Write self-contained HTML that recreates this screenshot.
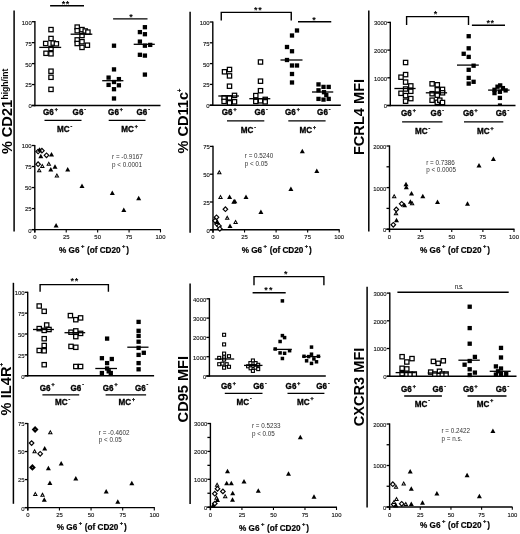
<!DOCTYPE html>
<html><head><meta charset="utf-8"><title>Figure</title>
<style>
html,body{margin:0;padding:0;background:#fff;width:520px;height:534px;overflow:hidden}
svg{display:block;font-family:"Liberation Sans", sans-serif;filter:grayscale(100%) blur(0.3px)}
</style></head>
<body>
<svg width="520" height="534" viewBox="0 0 520 534" font-family='"Liberation Sans", sans-serif'>
<rect width="520" height="534" fill="#fff"/>
<line x1="14.10" y1="10.40" x2="14.10" y2="231.60" stroke="#000" stroke-width="1.5"/>
<text transform="translate(11.70,154.00) rotate(-90)" x="0" y="0" font-size="14.6" font-weight="bold" fill="#000">%</text>
<text transform="translate(11.70,137.20) rotate(-90)" x="0" y="0" font-size="14.6" font-weight="bold" fill="#000">CD21</text>
<text transform="translate(7.60,99.60) rotate(-90)" x="0" y="0" font-size="8.6" font-weight="bold" fill="#000">high/int</text>
<line x1="34.90" y1="21.10" x2="34.90" y2="106.20" stroke="#000" stroke-width="1.4"/>
<line x1="31.90" y1="105.50" x2="34.90" y2="105.50" stroke="#000" stroke-width="1.3"/>
<text x="31.70" y="108.40" font-size="5.9" font-weight="normal" text-anchor="end" fill="#111" stroke="#111" stroke-width="0.12">0</text>
<line x1="31.90" y1="84.55" x2="34.90" y2="84.55" stroke="#000" stroke-width="1.3"/>
<text x="31.70" y="87.45" font-size="5.9" font-weight="normal" text-anchor="end" fill="#111" stroke="#111" stroke-width="0.12">25</text>
<line x1="31.90" y1="63.60" x2="34.90" y2="63.60" stroke="#000" stroke-width="1.3"/>
<text x="31.70" y="66.50" font-size="5.9" font-weight="normal" text-anchor="end" fill="#111" stroke="#111" stroke-width="0.12">50</text>
<line x1="31.90" y1="42.65" x2="34.90" y2="42.65" stroke="#000" stroke-width="1.3"/>
<text x="31.70" y="45.55" font-size="5.9" font-weight="normal" text-anchor="end" fill="#111" stroke="#111" stroke-width="0.12">75</text>
<line x1="31.90" y1="21.70" x2="34.90" y2="21.70" stroke="#000" stroke-width="1.3"/>
<text x="31.70" y="24.60" font-size="5.9" font-weight="normal" text-anchor="end" fill="#111" stroke="#111" stroke-width="0.12">100</text>
<line x1="31.70" y1="105.50" x2="160.50" y2="105.50" stroke="#000" stroke-width="1.4"/>
<line x1="50.10" y1="5.80" x2="84.00" y2="5.80" stroke="#000" stroke-width="1.4"/>
<text x="61.75" y="6.50" font-size="9" font-weight="bold" fill="#000">*</text>
<text x="65.80" y="6.50" font-size="9" font-weight="bold" fill="#000">*</text>
<line x1="113.10" y1="18.90" x2="147.50" y2="18.90" stroke="#000" stroke-width="1.4"/>
<text x="129.20" y="19.85" font-size="9" font-weight="bold" fill="#000">*</text>
<rect x="48.85" y="27.45" width="4.3" height="4.3" fill="#fff" stroke="#000" stroke-width="1.25"/>
<rect x="48.85" y="36.35" width="4.3" height="4.3" fill="#fff" stroke="#000" stroke-width="1.25"/>
<rect x="43.55" y="41.35" width="4.3" height="4.3" fill="#fff" stroke="#000" stroke-width="1.25"/>
<rect x="51.05" y="40.95" width="4.3" height="4.3" fill="#fff" stroke="#000" stroke-width="1.25"/>
<rect x="54.25" y="41.65" width="4.3" height="4.3" fill="#fff" stroke="#000" stroke-width="1.25"/>
<rect x="48.85" y="46.35" width="4.3" height="4.3" fill="#fff" stroke="#000" stroke-width="1.25"/>
<rect x="43.85" y="51.15" width="4.3" height="4.3" fill="#fff" stroke="#000" stroke-width="1.25"/>
<rect x="48.85" y="51.65" width="4.3" height="4.3" fill="#fff" stroke="#000" stroke-width="1.25"/>
<rect x="48.85" y="69.05" width="4.3" height="4.3" fill="#fff" stroke="#000" stroke-width="1.25"/>
<rect x="48.85" y="75.15" width="4.3" height="4.3" fill="#fff" stroke="#000" stroke-width="1.25"/>
<rect x="48.85" y="87.25" width="4.3" height="4.3" fill="#fff" stroke="#000" stroke-width="1.25"/>
<line x1="39.30" y1="47.40" x2="61.20" y2="47.40" stroke="#000" stroke-width="1.3"/>
<rect x="75.05" y="24.95" width="4.3" height="4.3" fill="#fff" stroke="#000" stroke-width="1.25"/>
<rect x="75.05" y="28.55" width="4.3" height="4.3" fill="#fff" stroke="#000" stroke-width="1.25"/>
<rect x="79.85" y="27.45" width="4.3" height="4.3" fill="#fff" stroke="#000" stroke-width="1.25"/>
<rect x="83.05" y="28.85" width="4.3" height="4.3" fill="#fff" stroke="#000" stroke-width="1.25"/>
<rect x="85.75" y="29.95" width="4.3" height="4.3" fill="#fff" stroke="#000" stroke-width="1.25"/>
<rect x="79.85" y="33.35" width="4.3" height="4.3" fill="#fff" stroke="#000" stroke-width="1.25"/>
<rect x="75.05" y="37.75" width="4.3" height="4.3" fill="#fff" stroke="#000" stroke-width="1.25"/>
<rect x="79.85" y="39.55" width="4.3" height="4.3" fill="#fff" stroke="#000" stroke-width="1.25"/>
<rect x="75.05" y="41.35" width="4.3" height="4.3" fill="#fff" stroke="#000" stroke-width="1.25"/>
<rect x="85.25" y="43.05" width="4.3" height="4.3" fill="#fff" stroke="#000" stroke-width="1.25"/>
<rect x="79.85" y="45.25" width="4.3" height="4.3" fill="#fff" stroke="#000" stroke-width="1.25"/>
<line x1="70.60" y1="34.20" x2="92.30" y2="34.20" stroke="#000" stroke-width="1.3"/>
<rect x="111.85" y="43.55" width="4.3" height="4.3" fill="#000"/>
<rect x="111.85" y="67.25" width="4.3" height="4.3" fill="#000"/>
<rect x="106.45" y="75.45" width="4.3" height="4.3" fill="#000"/>
<rect x="116.75" y="76.95" width="4.3" height="4.3" fill="#000"/>
<rect x="111.85" y="79.85" width="4.3" height="4.3" fill="#000"/>
<rect x="106.45" y="82.75" width="4.3" height="4.3" fill="#000"/>
<rect x="116.75" y="83.15" width="4.3" height="4.3" fill="#000"/>
<rect x="111.85" y="87.05" width="4.3" height="4.3" fill="#000"/>
<rect x="111.85" y="96.35" width="4.3" height="4.3" fill="#000"/>
<line x1="102.20" y1="80.70" x2="123.40" y2="80.70" stroke="#000" stroke-width="1.3"/>
<rect x="142.75" y="25.05" width="4.3" height="4.3" fill="#000"/>
<rect x="137.75" y="29.95" width="4.3" height="4.3" fill="#000"/>
<rect x="142.75" y="32.05" width="4.3" height="4.3" fill="#000"/>
<rect x="137.75" y="39.45" width="4.3" height="4.3" fill="#000"/>
<rect x="142.75" y="43.55" width="4.3" height="4.3" fill="#000"/>
<rect x="148.05" y="42.75" width="4.3" height="4.3" fill="#000"/>
<rect x="137.75" y="52.65" width="4.3" height="4.3" fill="#000"/>
<rect x="142.75" y="53.45" width="4.3" height="4.3" fill="#000"/>
<rect x="142.75" y="72.45" width="4.3" height="4.3" fill="#000"/>
<line x1="133.70" y1="44.30" x2="154.80" y2="44.30" stroke="#000" stroke-width="1.3"/>
<text transform="translate(43.00,115.20) scale(1,1.1)" font-size="8.1" font-weight="bold" fill="#000" stroke="#000" stroke-width="0.3">G6<tspan font-size="5.2" dx="0.9" dy="-4.0">+</tspan></text>
<text transform="translate(72.60,115.20) scale(1,1.1)" font-size="8.1" font-weight="bold" fill="#000" stroke="#000" stroke-width="0.3">G6<tspan font-size="5.2" dx="0.9" dy="-4.0">-</tspan></text>
<text transform="translate(108.10,115.20) scale(1,1.1)" font-size="8.1" font-weight="bold" fill="#000" stroke="#000" stroke-width="0.3">G6<tspan font-size="5.2" dx="0.9" dy="-4.0">+</tspan></text>
<text transform="translate(136.50,115.20) scale(1,1.1)" font-size="8.1" font-weight="bold" fill="#000" stroke="#000" stroke-width="0.3">G6<tspan font-size="5.2" dx="0.9" dy="-4.0">-</tspan></text>
<line x1="44.50" y1="120.40" x2="81.50" y2="120.40" stroke="#000" stroke-width="1.3"/>
<line x1="108.70" y1="120.40" x2="145.50" y2="120.40" stroke="#000" stroke-width="1.3"/>
<text transform="translate(57.00,132.20) scale(1,1.1)" font-size="8.1" font-weight="bold" fill="#000" stroke="#000" stroke-width="0.3">MC<tspan font-size="5.2" dx="0.9" dy="-4.0">-</tspan></text>
<text transform="translate(121.20,132.20) scale(1,1.1)" font-size="8.1" font-weight="bold" fill="#000" stroke="#000" stroke-width="0.3">MC<tspan font-size="5.2" dx="0.9" dy="-4.0">+</tspan></text>
<line x1="34.80" y1="144.90" x2="34.80" y2="232.60" stroke="#000" stroke-width="1.4"/>
<line x1="31.80" y1="229.60" x2="34.80" y2="229.60" stroke="#000" stroke-width="1.3"/>
<text x="31.60" y="232.50" font-size="5.9" font-weight="normal" text-anchor="end" fill="#111" stroke="#111" stroke-width="0.12">0</text>
<line x1="31.80" y1="208.57" x2="34.80" y2="208.57" stroke="#000" stroke-width="1.3"/>
<text x="31.60" y="211.47" font-size="5.9" font-weight="normal" text-anchor="end" fill="#111" stroke="#111" stroke-width="0.12">25</text>
<line x1="31.80" y1="187.55" x2="34.80" y2="187.55" stroke="#000" stroke-width="1.3"/>
<text x="31.60" y="190.45" font-size="5.9" font-weight="normal" text-anchor="end" fill="#111" stroke="#111" stroke-width="0.12">50</text>
<line x1="31.80" y1="166.52" x2="34.80" y2="166.52" stroke="#000" stroke-width="1.3"/>
<text x="31.60" y="169.42" font-size="5.9" font-weight="normal" text-anchor="end" fill="#111" stroke="#111" stroke-width="0.12">75</text>
<line x1="31.80" y1="145.50" x2="34.80" y2="145.50" stroke="#000" stroke-width="1.3"/>
<text x="31.60" y="148.40" font-size="5.9" font-weight="normal" text-anchor="end" fill="#111" stroke="#111" stroke-width="0.12">100</text>
<line x1="31.60" y1="229.60" x2="161.00" y2="229.60" stroke="#000" stroke-width="1.4"/>
<line x1="34.80" y1="229.60" x2="34.80" y2="232.40" stroke="#000" stroke-width="1.1"/>
<text x="34.80" y="239.20" font-size="5.9" font-weight="normal" text-anchor="middle" fill="#111" stroke="#111" stroke-width="0.12">0</text>
<line x1="66.22" y1="229.60" x2="66.22" y2="232.40" stroke="#000" stroke-width="1.1"/>
<text x="66.22" y="239.20" font-size="5.9" font-weight="normal" text-anchor="middle" fill="#111" stroke="#111" stroke-width="0.12">25</text>
<line x1="97.65" y1="229.60" x2="97.65" y2="232.40" stroke="#000" stroke-width="1.1"/>
<text x="97.65" y="239.20" font-size="5.9" font-weight="normal" text-anchor="middle" fill="#111" stroke="#111" stroke-width="0.12">50</text>
<line x1="129.07" y1="229.60" x2="129.07" y2="232.40" stroke="#000" stroke-width="1.1"/>
<text x="129.07" y="239.20" font-size="5.9" font-weight="normal" text-anchor="middle" fill="#111" stroke="#111" stroke-width="0.12">75</text>
<line x1="160.50" y1="229.60" x2="160.50" y2="232.40" stroke="#000" stroke-width="1.1"/>
<text x="160.50" y="239.20" font-size="5.9" font-weight="normal" text-anchor="middle" fill="#111" stroke="#111" stroke-width="0.12">100</text>
<text x="112.10" y="158.80" font-size="6.3" font-weight="normal" text-anchor="start" fill="#333" >r = -0.9167</text>
<text x="112.10" y="166.70" font-size="6.3" font-weight="normal" text-anchor="start" fill="#333" >p &lt; 0.0001</text>
<text x="59.00" y="253.10" font-size="8.2" font-weight="bold" fill="#000" stroke="#000" stroke-width="0.2">% G6<tspan font-size="5.8" dx="1.4" dy="-5.0">+</tspan><tspan dx="0.4" dy="5.0"> (of CD20</tspan><tspan font-size="5.8" dx="1.4" dy="-5.0">+</tspan><tspan dx="0.9" dy="5.0">)</tspan></text>
<polygon points="38.10,148.40 41.20,151.50 38.10,154.60 35.00,151.50" fill="#000"/>
<polygon points="38.10,150.03 39.57,151.50 38.10,152.97 36.63,151.50" fill="#fff"/>
<polygon points="41.90,147.60 45.00,150.70 41.90,153.80 38.80,150.70" fill="#000"/>
<polygon points="41.90,149.23 43.37,150.70 41.90,152.17 40.43,150.70" fill="#fff"/>
<polygon points="46.50,152.20 49.60,155.30 46.50,158.40 43.40,155.30" fill="#000"/>
<polygon points="46.50,153.83 47.97,155.30 46.50,156.77 45.03,155.30" fill="#fff"/>
<polygon points="38.10,161.10 41.20,164.20 38.10,167.30 35.00,164.20" fill="#000"/>
<polygon points="38.10,162.73 39.57,164.20 38.10,165.67 36.63,164.20" fill="#fff"/>
<polygon points="39.20,167.65 41.70,172.15 36.70,172.15" fill="#000"/>
<polygon points="39.20,169.71 40.00,171.15 38.40,171.15" fill="#fff"/>
<polygon points="42.30,163.45 44.80,167.95 39.80,167.95" fill="#000"/>
<polygon points="42.30,165.51 43.10,166.95 41.50,166.95" fill="#fff"/>
<polygon points="48.80,161.15 51.30,165.65 46.30,165.65" fill="#000"/>
<polygon points="48.80,163.21 49.60,164.65 48.00,164.65" fill="#fff"/>
<polygon points="56.90,173.05 59.40,177.55 54.40,177.55" fill="#000"/>
<polygon points="56.90,175.11 57.70,176.55 56.10,176.55" fill="#fff"/>
<polygon points="39.60,147.25 42.10,151.75 37.10,151.75" fill="#000"/>
<polygon points="40.80,153.85 43.30,158.35 38.30,158.35" fill="#000"/>
<polygon points="51.50,151.95 54.00,156.45 49.00,156.45" fill="#000"/>
<polygon points="50.80,166.95 53.30,171.45 48.30,171.45" fill="#000"/>
<polygon points="55.00,164.25 57.50,168.75 52.50,168.75" fill="#000"/>
<polygon points="67.70,166.95 70.20,171.45 65.20,171.45" fill="#000"/>
<polygon points="82.00,183.55 84.50,188.05 79.50,188.05" fill="#000"/>
<polygon points="112.30,190.45 114.80,194.95 109.80,194.95" fill="#000"/>
<polygon points="138.70,195.75 141.20,200.25 136.20,200.25" fill="#000"/>
<polygon points="123.80,207.45 126.30,211.95 121.30,211.95" fill="#000"/>
<polygon points="56.10,223.05 58.60,227.55 53.60,227.55" fill="#000"/>
<line x1="190.10" y1="11.80" x2="190.10" y2="232.80" stroke="#000" stroke-width="1.5"/>
<text transform="translate(188.20,153.40) rotate(-90)" x="0" y="0" font-size="14.6" font-weight="bold" fill="#000">%</text>
<text transform="translate(188.20,136.60) rotate(-90)" x="0" y="0" font-size="14.6" font-weight="bold" fill="#000">CD11c</text>
<text transform="translate(182.40,92.30) rotate(-90)" x="0" y="0" font-size="6.4" font-weight="bold" fill="#000">+</text>
<line x1="212.80" y1="21.40" x2="212.80" y2="105.90" stroke="#000" stroke-width="1.4"/>
<line x1="209.80" y1="105.20" x2="212.80" y2="105.20" stroke="#000" stroke-width="1.3"/>
<text x="209.60" y="108.10" font-size="5.9" font-weight="normal" text-anchor="end" fill="#111" stroke="#111" stroke-width="0.12">0</text>
<line x1="209.80" y1="84.40" x2="212.80" y2="84.40" stroke="#000" stroke-width="1.3"/>
<text x="209.60" y="87.30" font-size="5.9" font-weight="normal" text-anchor="end" fill="#111" stroke="#111" stroke-width="0.12">25</text>
<line x1="209.80" y1="63.60" x2="212.80" y2="63.60" stroke="#000" stroke-width="1.3"/>
<text x="209.60" y="66.50" font-size="5.9" font-weight="normal" text-anchor="end" fill="#111" stroke="#111" stroke-width="0.12">50</text>
<line x1="209.80" y1="42.80" x2="212.80" y2="42.80" stroke="#000" stroke-width="1.3"/>
<text x="209.60" y="45.70" font-size="5.9" font-weight="normal" text-anchor="end" fill="#111" stroke="#111" stroke-width="0.12">75</text>
<line x1="209.80" y1="22.00" x2="212.80" y2="22.00" stroke="#000" stroke-width="1.3"/>
<text x="209.60" y="24.90" font-size="5.9" font-weight="normal" text-anchor="end" fill="#111" stroke="#111" stroke-width="0.12">100</text>
<line x1="209.60" y1="105.20" x2="340.80" y2="105.20" stroke="#000" stroke-width="1.4"/>
<polyline points="221.25,20.50 221.25,12.40 291.25,12.40 291.25,20.50" fill="none" stroke="#000" stroke-width="1.4"/>
<text x="254.10" y="12.60" font-size="9" font-weight="bold" fill="#000">*</text>
<text x="258.30" y="12.60" font-size="9" font-weight="bold" fill="#000">*</text>
<line x1="298.00" y1="21.80" x2="331.25" y2="21.80" stroke="#000" stroke-width="1.4"/>
<text x="312.30" y="22.50" font-size="9" font-weight="bold" fill="#000">*</text>
<rect x="222.35" y="69.65" width="4.3" height="4.3" fill="#fff" stroke="#000" stroke-width="1.25"/>
<rect x="227.35" y="67.35" width="4.3" height="4.3" fill="#fff" stroke="#000" stroke-width="1.25"/>
<rect x="227.35" y="73.75" width="4.3" height="4.3" fill="#fff" stroke="#000" stroke-width="1.25"/>
<rect x="227.35" y="84.05" width="4.3" height="4.3" fill="#fff" stroke="#000" stroke-width="1.25"/>
<rect x="221.95" y="95.65" width="4.3" height="4.3" fill="#fff" stroke="#000" stroke-width="1.25"/>
<rect x="227.35" y="95.65" width="4.3" height="4.3" fill="#fff" stroke="#000" stroke-width="1.25"/>
<rect x="232.35" y="93.25" width="4.3" height="4.3" fill="#fff" stroke="#000" stroke-width="1.25"/>
<rect x="221.95" y="99.25" width="4.3" height="4.3" fill="#fff" stroke="#000" stroke-width="1.25"/>
<rect x="227.35" y="100.65" width="4.3" height="4.3" fill="#fff" stroke="#000" stroke-width="1.25"/>
<rect x="232.35" y="99.65" width="4.3" height="4.3" fill="#fff" stroke="#000" stroke-width="1.25"/>
<line x1="218.30" y1="96.00" x2="238.90" y2="96.00" stroke="#000" stroke-width="1.3"/>
<rect x="258.35" y="59.85" width="4.3" height="4.3" fill="#fff" stroke="#000" stroke-width="1.25"/>
<rect x="258.35" y="79.05" width="4.3" height="4.3" fill="#fff" stroke="#000" stroke-width="1.25"/>
<rect x="258.35" y="88.55" width="4.3" height="4.3" fill="#fff" stroke="#000" stroke-width="1.25"/>
<rect x="253.65" y="93.45" width="4.3" height="4.3" fill="#fff" stroke="#000" stroke-width="1.25"/>
<rect x="253.65" y="99.25" width="4.3" height="4.3" fill="#fff" stroke="#000" stroke-width="1.25"/>
<rect x="258.35" y="98.65" width="4.3" height="4.3" fill="#fff" stroke="#000" stroke-width="1.25"/>
<rect x="263.05" y="97.25" width="4.3" height="4.3" fill="#fff" stroke="#000" stroke-width="1.25"/>
<rect x="263.05" y="99.65" width="4.3" height="4.3" fill="#fff" stroke="#000" stroke-width="1.25"/>
<line x1="249.30" y1="98.70" x2="270.30" y2="98.70" stroke="#000" stroke-width="1.3"/>
<rect x="294.85" y="28.35" width="4.3" height="4.3" fill="#000"/>
<rect x="289.85" y="33.35" width="4.3" height="4.3" fill="#000"/>
<rect x="284.85" y="44.85" width="4.3" height="4.3" fill="#000"/>
<rect x="289.85" y="49.10" width="4.3" height="4.3" fill="#000"/>
<rect x="284.85" y="57.85" width="4.3" height="4.3" fill="#000"/>
<rect x="289.85" y="63.35" width="4.3" height="4.3" fill="#000"/>
<rect x="294.85" y="63.35" width="4.3" height="4.3" fill="#000"/>
<rect x="289.85" y="71.85" width="4.3" height="4.3" fill="#000"/>
<rect x="289.85" y="80.35" width="4.3" height="4.3" fill="#000"/>
<line x1="280.50" y1="60.00" x2="302.50" y2="60.00" stroke="#000" stroke-width="1.3"/>
<rect x="316.35" y="82.25" width="4.3" height="4.3" fill="#000"/>
<rect x="321.35" y="84.75" width="4.3" height="4.3" fill="#000"/>
<rect x="326.55" y="84.75" width="4.3" height="4.3" fill="#000"/>
<rect x="316.35" y="88.15" width="4.3" height="4.3" fill="#000"/>
<rect x="321.85" y="90.05" width="4.3" height="4.3" fill="#000"/>
<rect x="324.15" y="92.85" width="4.3" height="4.3" fill="#000"/>
<rect x="316.35" y="96.75" width="4.3" height="4.3" fill="#000"/>
<rect x="321.35" y="97.45" width="4.3" height="4.3" fill="#000"/>
<rect x="326.55" y="96.75" width="4.3" height="4.3" fill="#000"/>
<line x1="312.00" y1="92.00" x2="333.25" y2="92.00" stroke="#000" stroke-width="1.3"/>
<text transform="translate(221.80,115.10) scale(1,1.1)" font-size="8.1" font-weight="bold" fill="#000" stroke="#000" stroke-width="0.3">G6<tspan font-size="5.2" dx="0.9" dy="-4.0">+</tspan></text>
<text transform="translate(254.40,115.10) scale(1,1.1)" font-size="8.1" font-weight="bold" fill="#000" stroke="#000" stroke-width="0.3">G6<tspan font-size="5.2" dx="0.9" dy="-4.0">-</tspan></text>
<text transform="translate(285.00,115.10) scale(1,1.1)" font-size="8.1" font-weight="bold" fill="#000" stroke="#000" stroke-width="0.3">G6<tspan font-size="5.2" dx="0.9" dy="-4.0">+</tspan></text>
<text transform="translate(317.10,115.10) scale(1,1.1)" font-size="8.1" font-weight="bold" fill="#000" stroke="#000" stroke-width="0.3">G6<tspan font-size="5.2" dx="0.9" dy="-4.0">-</tspan></text>
<line x1="227.00" y1="120.90" x2="264.30" y2="120.90" stroke="#000" stroke-width="1.3"/>
<line x1="288.30" y1="120.90" x2="325.60" y2="120.90" stroke="#000" stroke-width="1.3"/>
<text transform="translate(240.80,133.20) scale(1,1.1)" font-size="8.1" font-weight="bold" fill="#000" stroke="#000" stroke-width="0.3">MC<tspan font-size="5.2" dx="0.9" dy="-4.0">-</tspan></text>
<text transform="translate(299.40,133.20) scale(1,1.1)" font-size="8.1" font-weight="bold" fill="#000" stroke="#000" stroke-width="0.3">MC<tspan font-size="5.2" dx="0.9" dy="-4.0">+</tspan></text>
<line x1="213.00" y1="145.80" x2="213.00" y2="232.80" stroke="#000" stroke-width="1.4"/>
<line x1="210.00" y1="229.80" x2="213.00" y2="229.80" stroke="#000" stroke-width="1.3"/>
<text x="209.80" y="232.70" font-size="5.9" font-weight="normal" text-anchor="end" fill="#111" stroke="#111" stroke-width="0.12">0</text>
<line x1="210.00" y1="202.00" x2="213.00" y2="202.00" stroke="#000" stroke-width="1.3"/>
<text x="209.80" y="204.90" font-size="5.9" font-weight="normal" text-anchor="end" fill="#111" stroke="#111" stroke-width="0.12">25</text>
<line x1="210.00" y1="174.20" x2="213.00" y2="174.20" stroke="#000" stroke-width="1.3"/>
<text x="209.80" y="177.10" font-size="5.9" font-weight="normal" text-anchor="end" fill="#111" stroke="#111" stroke-width="0.12">50</text>
<line x1="210.00" y1="146.40" x2="213.00" y2="146.40" stroke="#000" stroke-width="1.3"/>
<text x="209.80" y="149.30" font-size="5.9" font-weight="normal" text-anchor="end" fill="#111" stroke="#111" stroke-width="0.12">75</text>
<line x1="209.80" y1="229.80" x2="339.70" y2="229.80" stroke="#000" stroke-width="1.4"/>
<line x1="213.00" y1="229.80" x2="213.00" y2="232.60" stroke="#000" stroke-width="1.1"/>
<text x="213.00" y="239.40" font-size="5.9" font-weight="normal" text-anchor="middle" fill="#111" stroke="#111" stroke-width="0.12">0</text>
<line x1="244.55" y1="229.80" x2="244.55" y2="232.60" stroke="#000" stroke-width="1.1"/>
<text x="244.55" y="239.40" font-size="5.9" font-weight="normal" text-anchor="middle" fill="#111" stroke="#111" stroke-width="0.12">25</text>
<line x1="276.10" y1="229.80" x2="276.10" y2="232.60" stroke="#000" stroke-width="1.1"/>
<text x="276.10" y="239.40" font-size="5.9" font-weight="normal" text-anchor="middle" fill="#111" stroke="#111" stroke-width="0.12">50</text>
<line x1="307.65" y1="229.80" x2="307.65" y2="232.60" stroke="#000" stroke-width="1.1"/>
<text x="307.65" y="239.40" font-size="5.9" font-weight="normal" text-anchor="middle" fill="#111" stroke="#111" stroke-width="0.12">75</text>
<line x1="339.20" y1="229.80" x2="339.20" y2="232.60" stroke="#000" stroke-width="1.1"/>
<text x="339.20" y="239.40" font-size="5.9" font-weight="normal" text-anchor="middle" fill="#111" stroke="#111" stroke-width="0.12">100</text>
<text x="244.80" y="158.00" font-size="6.3" font-weight="normal" text-anchor="start" fill="#333" >r = 0.5240</text>
<text x="244.80" y="166.30" font-size="6.3" font-weight="normal" text-anchor="start" fill="#333" >p &lt; 0.05</text>
<text x="241.70" y="253.10" font-size="8.2" font-weight="bold" fill="#000" stroke="#000" stroke-width="0.2">% G6<tspan font-size="5.8" dx="1.4" dy="-5.0">+</tspan><tspan dx="0.4" dy="5.0"> (of CD20</tspan><tspan font-size="5.8" dx="1.4" dy="-5.0">+</tspan><tspan dx="0.9" dy="5.0">)</tspan></text>
<polygon points="225.40,206.10 228.50,209.20 225.40,212.30 222.30,209.20" fill="#000"/>
<polygon points="225.40,207.73 226.87,209.20 225.40,210.67 223.93,209.20" fill="#fff"/>
<polygon points="216.50,214.20 219.60,217.30 216.50,220.40 213.40,217.30" fill="#000"/>
<polygon points="216.50,215.83 217.97,217.30 216.50,218.77 215.03,217.30" fill="#fff"/>
<polygon points="215.10,217.60 218.20,220.70 215.10,223.80 212.00,220.70" fill="#000"/>
<polygon points="215.10,219.23 216.57,220.70 215.10,222.17 213.63,220.70" fill="#fff"/>
<polygon points="217.00,220.80 220.10,223.90 217.00,227.00 213.90,223.90" fill="#000"/>
<polygon points="217.00,222.43 218.47,223.90 217.00,225.37 215.53,223.90" fill="#fff"/>
<polygon points="219.00,222.90 222.10,226.00 219.00,229.10 215.90,226.00" fill="#000"/>
<polygon points="219.00,224.53 220.47,226.00 219.00,227.47 217.53,226.00" fill="#fff"/>
<polygon points="219.80,225.70 222.90,228.80 219.80,231.90 216.70,228.80" fill="#000"/>
<polygon points="219.80,227.33 221.27,228.80 219.80,230.27 218.33,228.80" fill="#fff"/>
<polygon points="219.30,169.65 221.80,174.15 216.80,174.15" fill="#000"/>
<polygon points="219.30,171.71 220.10,173.15 218.50,173.15" fill="#fff"/>
<polygon points="220.50,194.55 223.00,199.05 218.00,199.05" fill="#000"/>
<polygon points="220.50,196.61 221.30,198.05 219.70,198.05" fill="#fff"/>
<polygon points="227.20,215.35 229.70,219.85 224.70,219.85" fill="#000"/>
<polygon points="227.20,217.41 228.00,218.85 226.40,218.85" fill="#fff"/>
<polygon points="235.60,219.55 238.10,224.05 233.10,224.05" fill="#000"/>
<polygon points="235.60,221.61 236.40,223.05 234.80,223.05" fill="#fff"/>
<polygon points="302.30,148.75 304.80,153.25 299.80,153.25" fill="#000"/>
<polygon points="316.80,168.45 319.30,172.95 314.30,172.95" fill="#000"/>
<polygon points="290.90,186.55 293.40,191.05 288.40,191.05" fill="#000"/>
<polygon points="229.60,194.55 232.10,199.05 227.10,199.05" fill="#000"/>
<polygon points="246.00,194.55 248.50,199.05 243.50,199.05" fill="#000"/>
<polygon points="233.80,199.15 236.30,203.65 231.30,203.65" fill="#000"/>
<polygon points="234.80,198.75 237.30,203.25 232.30,203.25" fill="#000"/>
<polygon points="260.90,209.45 263.40,213.95 258.40,213.95" fill="#000"/>
<polygon points="230.00,223.45 232.50,227.95 227.50,227.95" fill="#000"/>
<polygon points="217.40,219.55 219.90,224.05 214.90,224.05" fill="#000"/>
<line x1="368.80" y1="10.40" x2="368.80" y2="231.40" stroke="#000" stroke-width="1.5"/>
<text transform="translate(364.40,155.10) rotate(-90)" x="0" y="0" font-size="14.6" font-weight="bold" fill="#000">FCRL4 MFI</text>
<line x1="390.30" y1="21.80" x2="390.30" y2="106.20" stroke="#000" stroke-width="1.4"/>
<line x1="387.30" y1="105.50" x2="390.30" y2="105.50" stroke="#000" stroke-width="1.3"/>
<text x="387.10" y="108.40" font-size="5.9" font-weight="normal" text-anchor="end" fill="#111" stroke="#111" stroke-width="0.12">0</text>
<line x1="387.30" y1="77.80" x2="390.30" y2="77.80" stroke="#000" stroke-width="1.3"/>
<text x="387.10" y="80.70" font-size="5.9" font-weight="normal" text-anchor="end" fill="#111" stroke="#111" stroke-width="0.12">1000</text>
<line x1="387.30" y1="50.10" x2="390.30" y2="50.10" stroke="#000" stroke-width="1.3"/>
<text x="387.10" y="53.00" font-size="5.9" font-weight="normal" text-anchor="end" fill="#111" stroke="#111" stroke-width="0.12">2000</text>
<line x1="387.30" y1="22.40" x2="390.30" y2="22.40" stroke="#000" stroke-width="1.3"/>
<text x="387.10" y="25.30" font-size="5.9" font-weight="normal" text-anchor="end" fill="#111" stroke="#111" stroke-width="0.12">3000</text>
<line x1="387.10" y1="105.50" x2="515.50" y2="105.50" stroke="#000" stroke-width="1.4"/>
<polyline points="406.60,25.00 406.60,16.60 468.50,16.60 468.50,25.00" fill="none" stroke="#000" stroke-width="1.4"/>
<text x="433.80" y="17.40" font-size="9" font-weight="bold" fill="#000">*</text>
<line x1="471.90" y1="25.30" x2="505.00" y2="25.30" stroke="#000" stroke-width="1.4"/>
<text x="486.40" y="26.20" font-size="9" font-weight="bold" fill="#000">*</text>
<text x="490.50" y="26.20" font-size="9" font-weight="bold" fill="#000">*</text>
<rect x="403.45" y="60.35" width="4.3" height="4.3" fill="#fff" stroke="#000" stroke-width="1.25"/>
<rect x="403.45" y="72.45" width="4.3" height="4.3" fill="#fff" stroke="#000" stroke-width="1.25"/>
<rect x="398.85" y="75.05" width="4.3" height="4.3" fill="#fff" stroke="#000" stroke-width="1.25"/>
<rect x="403.45" y="79.95" width="4.3" height="4.3" fill="#fff" stroke="#000" stroke-width="1.25"/>
<rect x="408.65" y="83.75" width="4.3" height="4.3" fill="#fff" stroke="#000" stroke-width="1.25"/>
<rect x="403.45" y="86.85" width="4.3" height="4.3" fill="#fff" stroke="#000" stroke-width="1.25"/>
<rect x="408.65" y="89.15" width="4.3" height="4.3" fill="#fff" stroke="#000" stroke-width="1.25"/>
<rect x="398.85" y="91.15" width="4.3" height="4.3" fill="#fff" stroke="#000" stroke-width="1.25"/>
<rect x="403.45" y="93.45" width="4.3" height="4.3" fill="#fff" stroke="#000" stroke-width="1.25"/>
<rect x="408.65" y="96.45" width="4.3" height="4.3" fill="#fff" stroke="#000" stroke-width="1.25"/>
<rect x="403.45" y="99.05" width="4.3" height="4.3" fill="#fff" stroke="#000" stroke-width="1.25"/>
<line x1="394.40" y1="88.50" x2="415.60" y2="88.50" stroke="#000" stroke-width="1.3"/>
<rect x="429.95" y="81.65" width="4.3" height="4.3" fill="#fff" stroke="#000" stroke-width="1.25"/>
<rect x="435.15" y="82.65" width="4.3" height="4.3" fill="#fff" stroke="#000" stroke-width="1.25"/>
<rect x="435.15" y="87.65" width="4.3" height="4.3" fill="#fff" stroke="#000" stroke-width="1.25"/>
<rect x="440.35" y="87.25" width="4.3" height="4.3" fill="#fff" stroke="#000" stroke-width="1.25"/>
<rect x="429.95" y="91.55" width="4.3" height="4.3" fill="#fff" stroke="#000" stroke-width="1.25"/>
<rect x="435.15" y="93.05" width="4.3" height="4.3" fill="#fff" stroke="#000" stroke-width="1.25"/>
<rect x="440.35" y="90.65" width="4.3" height="4.3" fill="#fff" stroke="#000" stroke-width="1.25"/>
<rect x="429.95" y="98.05" width="4.3" height="4.3" fill="#fff" stroke="#000" stroke-width="1.25"/>
<rect x="435.15" y="100.15" width="4.3" height="4.3" fill="#fff" stroke="#000" stroke-width="1.25"/>
<rect x="437.65" y="98.05" width="4.3" height="4.3" fill="#fff" stroke="#000" stroke-width="1.25"/>
<rect x="440.35" y="100.35" width="4.3" height="4.3" fill="#fff" stroke="#000" stroke-width="1.25"/>
<line x1="425.80" y1="92.80" x2="447.10" y2="92.80" stroke="#000" stroke-width="1.3"/>
<rect x="466.55" y="34.05" width="4.3" height="4.3" fill="#000"/>
<rect x="466.55" y="46.15" width="4.3" height="4.3" fill="#000"/>
<rect x="461.55" y="51.65" width="4.3" height="4.3" fill="#000"/>
<rect x="466.55" y="54.75" width="4.3" height="4.3" fill="#000"/>
<rect x="471.45" y="63.55" width="4.3" height="4.3" fill="#000"/>
<rect x="466.55" y="67.65" width="4.3" height="4.3" fill="#000"/>
<rect x="466.55" y="75.75" width="4.3" height="4.3" fill="#000"/>
<rect x="471.45" y="79.65" width="4.3" height="4.3" fill="#000"/>
<rect x="466.55" y="81.45" width="4.3" height="4.3" fill="#000"/>
<line x1="457.00" y1="65.10" x2="478.80" y2="65.10" stroke="#000" stroke-width="1.3"/>
<rect x="498.05" y="83.25" width="4.3" height="4.3" fill="#000"/>
<rect x="495.35" y="84.55" width="4.3" height="4.3" fill="#000"/>
<rect x="500.75" y="85.95" width="4.3" height="4.3" fill="#000"/>
<rect x="503.45" y="88.25" width="4.3" height="4.3" fill="#000"/>
<rect x="492.35" y="87.65" width="4.3" height="4.3" fill="#000"/>
<rect x="492.35" y="90.95" width="4.3" height="4.3" fill="#000"/>
<rect x="497.75" y="89.65" width="4.3" height="4.3" fill="#000"/>
<rect x="497.75" y="95.75" width="4.3" height="4.3" fill="#000"/>
<rect x="497.9" y="103.4" width="4.1" height="2.1" fill="#000"/>
<line x1="488.10" y1="90.10" x2="509.60" y2="90.10" stroke="#000" stroke-width="1.3"/>
<text transform="translate(401.00,116.00) scale(1,1.1)" font-size="8.1" font-weight="bold" fill="#000" stroke="#000" stroke-width="0.3">G6<tspan font-size="5.2" dx="0.9" dy="-4.0">+</tspan></text>
<text transform="translate(430.60,116.00) scale(1,1.1)" font-size="8.1" font-weight="bold" fill="#000" stroke="#000" stroke-width="0.3">G6<tspan font-size="5.2" dx="0.9" dy="-4.0">-</tspan></text>
<text transform="translate(462.90,116.00) scale(1,1.1)" font-size="8.1" font-weight="bold" fill="#000" stroke="#000" stroke-width="0.3">G6<tspan font-size="5.2" dx="0.9" dy="-4.0">+</tspan></text>
<text transform="translate(495.80,116.00) scale(1,1.1)" font-size="8.1" font-weight="bold" fill="#000" stroke="#000" stroke-width="0.3">G6<tspan font-size="5.2" dx="0.9" dy="-4.0">-</tspan></text>
<line x1="402.10" y1="121.90" x2="442.50" y2="121.90" stroke="#000" stroke-width="1.3"/>
<line x1="464.00" y1="121.90" x2="503.30" y2="121.90" stroke="#000" stroke-width="1.3"/>
<text transform="translate(415.00,134.00) scale(1,1.1)" font-size="8.1" font-weight="bold" fill="#000" stroke="#000" stroke-width="0.3">MC<tspan font-size="5.2" dx="0.9" dy="-4.0">-</tspan></text>
<text transform="translate(476.90,134.00) scale(1,1.1)" font-size="8.1" font-weight="bold" fill="#000" stroke="#000" stroke-width="0.3">MC<tspan font-size="5.2" dx="0.9" dy="-4.0">+</tspan></text>
<line x1="389.50" y1="145.40" x2="389.50" y2="232.20" stroke="#000" stroke-width="1.4"/>
<line x1="386.50" y1="229.20" x2="389.50" y2="229.20" stroke="#000" stroke-width="1.3"/>
<text x="386.30" y="232.10" font-size="5.9" font-weight="normal" text-anchor="end" fill="#111" stroke="#111" stroke-width="0.12">0</text>
<line x1="386.50" y1="187.60" x2="389.50" y2="187.60" stroke="#000" stroke-width="1.3"/>
<text x="386.30" y="190.50" font-size="5.9" font-weight="normal" text-anchor="end" fill="#111" stroke="#111" stroke-width="0.12">1000</text>
<line x1="386.50" y1="146.00" x2="389.50" y2="146.00" stroke="#000" stroke-width="1.3"/>
<text x="386.30" y="148.90" font-size="5.9" font-weight="normal" text-anchor="end" fill="#111" stroke="#111" stroke-width="0.12">2000</text>
<line x1="386.50" y1="208.40" x2="389.50" y2="208.40" stroke="#000" stroke-width="1.3"/>
<line x1="386.50" y1="166.80" x2="389.50" y2="166.80" stroke="#000" stroke-width="1.3"/>
<line x1="386.30" y1="229.20" x2="514.50" y2="229.20" stroke="#000" stroke-width="1.4"/>
<line x1="389.50" y1="229.20" x2="389.50" y2="232.00" stroke="#000" stroke-width="1.1"/>
<text x="389.50" y="238.80" font-size="5.9" font-weight="normal" text-anchor="middle" fill="#111" stroke="#111" stroke-width="0.12">0</text>
<line x1="420.62" y1="229.20" x2="420.62" y2="232.00" stroke="#000" stroke-width="1.1"/>
<text x="420.62" y="238.80" font-size="5.9" font-weight="normal" text-anchor="middle" fill="#111" stroke="#111" stroke-width="0.12">25</text>
<line x1="451.75" y1="229.20" x2="451.75" y2="232.00" stroke="#000" stroke-width="1.1"/>
<text x="451.75" y="238.80" font-size="5.9" font-weight="normal" text-anchor="middle" fill="#111" stroke="#111" stroke-width="0.12">50</text>
<line x1="482.88" y1="229.20" x2="482.88" y2="232.00" stroke="#000" stroke-width="1.1"/>
<text x="482.88" y="238.80" font-size="5.9" font-weight="normal" text-anchor="middle" fill="#111" stroke="#111" stroke-width="0.12">75</text>
<line x1="514.00" y1="229.20" x2="514.00" y2="232.00" stroke="#000" stroke-width="1.1"/>
<text x="514.00" y="238.80" font-size="5.9" font-weight="normal" text-anchor="middle" fill="#111" stroke="#111" stroke-width="0.12">100</text>
<text x="426.20" y="164.50" font-size="6.3" font-weight="normal" text-anchor="start" fill="#333" >r = 0.7386</text>
<text x="426.20" y="172.30" font-size="6.3" font-weight="normal" text-anchor="start" fill="#333" >p &lt; 0.0005</text>
<text x="420.00" y="252.70" font-size="8.2" font-weight="bold" fill="#000" stroke="#000" stroke-width="0.2">% G6<tspan font-size="5.8" dx="1.4" dy="-5.0">+</tspan><tspan dx="0.4" dy="5.0"> (of CD20</tspan><tspan font-size="5.8" dx="1.4" dy="-5.0">+</tspan><tspan dx="0.9" dy="5.0">)</tspan></text>
<polygon points="401.70,200.70 404.80,203.80 401.70,206.90 398.60,203.80" fill="#000"/>
<polygon points="401.70,202.33 403.17,203.80 401.70,205.27 400.23,203.80" fill="#fff"/>
<polygon points="396.30,206.30 399.40,209.40 396.30,212.50 393.20,209.40" fill="#000"/>
<polygon points="396.30,207.93 397.77,209.40 396.30,210.87 394.83,209.40" fill="#fff"/>
<polygon points="393.30,221.70 396.40,224.80 393.30,227.90 390.20,224.80" fill="#000"/>
<polygon points="393.30,223.33 394.77,224.80 393.30,226.27 391.83,224.80" fill="#fff"/>
<polygon points="394.20,193.75 396.70,198.25 391.70,198.25" fill="#000"/>
<polygon points="394.20,195.81 395.00,197.25 393.40,197.25" fill="#fff"/>
<polygon points="412.10,200.65 414.60,205.15 409.60,205.15" fill="#000"/>
<polygon points="412.10,202.71 412.90,204.15 411.30,204.15" fill="#fff"/>
<polygon points="396.00,210.85 398.50,215.35 393.50,215.35" fill="#000"/>
<polygon points="396.00,212.91 396.80,214.35 395.20,214.35" fill="#fff"/>
<polygon points="493.40,156.45 495.90,160.95 490.90,160.95" fill="#000"/>
<polygon points="479.00,163.05 481.50,167.55 476.50,167.55" fill="#000"/>
<polygon points="406.00,181.75 408.50,186.25 403.50,186.25" fill="#000"/>
<polygon points="406.30,184.85 408.80,189.35 403.80,189.35" fill="#000"/>
<polygon points="411.50,190.95 414.00,195.45 409.00,195.45" fill="#000"/>
<polygon points="422.80,193.75 425.30,198.25 420.30,198.25" fill="#000"/>
<polygon points="437.50,199.55 440.00,204.05 435.00,204.05" fill="#000"/>
<polygon points="467.50,201.15 470.00,205.65 465.00,205.65" fill="#000"/>
<polygon points="410.40,199.25 412.90,203.75 407.90,203.75" fill="#000"/>
<polygon points="404.60,202.75 407.10,207.25 402.10,207.25" fill="#000"/>
<polygon points="396.50,217.75 399.00,222.25 394.00,222.25" fill="#000"/>
<line x1="13.40" y1="282.80" x2="13.40" y2="503.80" stroke="#000" stroke-width="1.5"/>
<text transform="translate(10.90,415.50) rotate(-90)" x="0" y="0" font-size="14.6" font-weight="bold" fill="#000">%</text>
<text transform="translate(10.90,398.20) rotate(-90)" x="0" y="0" font-size="14.6" font-weight="bold" fill="#000">IL4R</text>
<text transform="translate(3.60,366.50) rotate(-90)" x="0" y="0" font-size="6.4" font-weight="bold" fill="#000">+</text>
<line x1="27.70" y1="291.70" x2="27.70" y2="376.40" stroke="#000" stroke-width="1.4"/>
<line x1="24.70" y1="375.70" x2="27.70" y2="375.70" stroke="#000" stroke-width="1.3"/>
<text x="24.50" y="378.60" font-size="5.9" font-weight="normal" text-anchor="end" fill="#111" stroke="#111" stroke-width="0.12">0</text>
<line x1="24.70" y1="354.85" x2="27.70" y2="354.85" stroke="#000" stroke-width="1.3"/>
<text x="24.50" y="357.75" font-size="5.9" font-weight="normal" text-anchor="end" fill="#111" stroke="#111" stroke-width="0.12">25</text>
<line x1="24.70" y1="334.00" x2="27.70" y2="334.00" stroke="#000" stroke-width="1.3"/>
<text x="24.50" y="336.90" font-size="5.9" font-weight="normal" text-anchor="end" fill="#111" stroke="#111" stroke-width="0.12">50</text>
<line x1="24.70" y1="313.15" x2="27.70" y2="313.15" stroke="#000" stroke-width="1.3"/>
<text x="24.50" y="316.05" font-size="5.9" font-weight="normal" text-anchor="end" fill="#111" stroke="#111" stroke-width="0.12">75</text>
<line x1="24.70" y1="292.30" x2="27.70" y2="292.30" stroke="#000" stroke-width="1.3"/>
<text x="24.50" y="295.20" font-size="5.9" font-weight="normal" text-anchor="end" fill="#111" stroke="#111" stroke-width="0.12">100</text>
<line x1="24.50" y1="375.70" x2="154.10" y2="375.70" stroke="#000" stroke-width="1.4"/>
<polyline points="40.10,291.80 40.10,284.60 108.40,284.60 108.40,291.80" fill="none" stroke="#000" stroke-width="1.4"/>
<text x="70.50" y="283.80" font-size="9" font-weight="bold" fill="#000">*</text>
<text x="74.80" y="283.80" font-size="9" font-weight="bold" fill="#000">*</text>
<rect x="37.05" y="303.85" width="4.3" height="4.3" fill="#fff" stroke="#000" stroke-width="1.25"/>
<rect x="42.05" y="309.15" width="4.3" height="4.3" fill="#fff" stroke="#000" stroke-width="1.25"/>
<rect x="44.55" y="322.85" width="4.3" height="4.3" fill="#fff" stroke="#000" stroke-width="1.25"/>
<rect x="37.05" y="326.45" width="4.3" height="4.3" fill="#fff" stroke="#000" stroke-width="1.25"/>
<rect x="42.05" y="328.25" width="4.3" height="4.3" fill="#fff" stroke="#000" stroke-width="1.25"/>
<rect x="46.85" y="327.35" width="4.3" height="4.3" fill="#fff" stroke="#000" stroke-width="1.25"/>
<rect x="42.05" y="336.55" width="4.3" height="4.3" fill="#fff" stroke="#000" stroke-width="1.25"/>
<rect x="42.05" y="343.35" width="4.3" height="4.3" fill="#fff" stroke="#000" stroke-width="1.25"/>
<rect x="37.05" y="348.35" width="4.3" height="4.3" fill="#fff" stroke="#000" stroke-width="1.25"/>
<rect x="42.05" y="348.65" width="4.3" height="4.3" fill="#fff" stroke="#000" stroke-width="1.25"/>
<rect x="42.05" y="362.55" width="4.3" height="4.3" fill="#fff" stroke="#000" stroke-width="1.25"/>
<line x1="33.00" y1="329.50" x2="53.90" y2="329.50" stroke="#000" stroke-width="1.3"/>
<rect x="68.25" y="313.45" width="4.3" height="4.3" fill="#fff" stroke="#000" stroke-width="1.25"/>
<rect x="73.65" y="317.55" width="4.3" height="4.3" fill="#fff" stroke="#000" stroke-width="1.25"/>
<rect x="78.45" y="315.75" width="4.3" height="4.3" fill="#fff" stroke="#000" stroke-width="1.25"/>
<rect x="68.85" y="330.05" width="4.3" height="4.3" fill="#fff" stroke="#000" stroke-width="1.25"/>
<rect x="73.65" y="328.75" width="4.3" height="4.3" fill="#fff" stroke="#000" stroke-width="1.25"/>
<rect x="73.65" y="334.45" width="4.3" height="4.3" fill="#fff" stroke="#000" stroke-width="1.25"/>
<rect x="78.45" y="331.25" width="4.3" height="4.3" fill="#fff" stroke="#000" stroke-width="1.25"/>
<rect x="68.85" y="344.25" width="4.3" height="4.3" fill="#fff" stroke="#000" stroke-width="1.25"/>
<rect x="73.65" y="345.15" width="4.3" height="4.3" fill="#fff" stroke="#000" stroke-width="1.25"/>
<rect x="73.65" y="364.35" width="4.3" height="4.3" fill="#fff" stroke="#000" stroke-width="1.25"/>
<rect x="78.45" y="364.35" width="4.3" height="4.3" fill="#fff" stroke="#000" stroke-width="1.25"/>
<line x1="64.50" y1="332.70" x2="85.20" y2="332.70" stroke="#000" stroke-width="1.3"/>
<rect x="104.95" y="336.45" width="4.3" height="4.3" fill="#000"/>
<rect x="99.75" y="356.05" width="4.3" height="4.3" fill="#000"/>
<rect x="109.65" y="356.85" width="4.3" height="4.3" fill="#000"/>
<rect x="104.95" y="360.95" width="4.3" height="4.3" fill="#000"/>
<rect x="104.95" y="366.35" width="4.3" height="4.3" fill="#000"/>
<rect x="99.75" y="370.85" width="4.3" height="4.3" fill="#000"/>
<rect x="106.55" y="369.15" width="4.3" height="4.3" fill="#000"/>
<rect x="108.65" y="370.85" width="4.3" height="4.3" fill="#000"/>
<line x1="95.30" y1="368.50" x2="117.00" y2="368.50" stroke="#000" stroke-width="1.3"/>
<rect x="136.45" y="319.75" width="4.3" height="4.3" fill="#000"/>
<rect x="136.45" y="328.65" width="4.3" height="4.3" fill="#000"/>
<rect x="136.45" y="333.75" width="4.3" height="4.3" fill="#000"/>
<rect x="136.45" y="339.55" width="4.3" height="4.3" fill="#000"/>
<rect x="136.45" y="345.75" width="4.3" height="4.3" fill="#000"/>
<rect x="141.65" y="350.65" width="4.3" height="4.3" fill="#000"/>
<rect x="136.45" y="352.75" width="4.3" height="4.3" fill="#000"/>
<rect x="136.45" y="360.95" width="4.3" height="4.3" fill="#000"/>
<rect x="136.45" y="367.15" width="4.3" height="4.3" fill="#000"/>
<line x1="127.30" y1="347.20" x2="148.50" y2="347.20" stroke="#000" stroke-width="1.3"/>
<text transform="translate(39.80,390.50) scale(1,1.1)" font-size="8.1" font-weight="bold" fill="#000" stroke="#000" stroke-width="0.3">G6<tspan font-size="5.2" dx="0.9" dy="-4.0">+</tspan></text>
<text transform="translate(70.50,390.50) scale(1,1.1)" font-size="8.1" font-weight="bold" fill="#000" stroke="#000" stroke-width="0.3">G6<tspan font-size="5.2" dx="0.9" dy="-4.0">-</tspan></text>
<text transform="translate(102.80,390.50) scale(1,1.1)" font-size="8.1" font-weight="bold" fill="#000" stroke="#000" stroke-width="0.3">G6<tspan font-size="5.2" dx="0.9" dy="-4.0">+</tspan></text>
<text transform="translate(134.90,390.50) scale(1,1.1)" font-size="8.1" font-weight="bold" fill="#000" stroke="#000" stroke-width="0.3">G6<tspan font-size="5.2" dx="0.9" dy="-4.0">-</tspan></text>
<line x1="42.40" y1="394.80" x2="79.20" y2="394.80" stroke="#000" stroke-width="1.3"/>
<line x1="105.60" y1="394.80" x2="146.10" y2="394.80" stroke="#000" stroke-width="1.3"/>
<text transform="translate(55.10,405.30) scale(1,1.1)" font-size="8.1" font-weight="bold" fill="#000" stroke="#000" stroke-width="0.3">MC<tspan font-size="5.2" dx="0.9" dy="-4.0">-</tspan></text>
<text transform="translate(118.40,405.30) scale(1,1.1)" font-size="8.1" font-weight="bold" fill="#000" stroke="#000" stroke-width="0.3">MC<tspan font-size="5.2" dx="0.9" dy="-4.0">+</tspan></text>
<line x1="27.80" y1="422.90" x2="27.80" y2="510.60" stroke="#000" stroke-width="1.4"/>
<line x1="24.80" y1="507.60" x2="27.80" y2="507.60" stroke="#000" stroke-width="1.3"/>
<text x="24.60" y="510.50" font-size="5.9" font-weight="normal" text-anchor="end" fill="#111" stroke="#111" stroke-width="0.12">0</text>
<line x1="24.80" y1="479.57" x2="27.80" y2="479.57" stroke="#000" stroke-width="1.3"/>
<text x="24.60" y="482.47" font-size="5.9" font-weight="normal" text-anchor="end" fill="#111" stroke="#111" stroke-width="0.12">25</text>
<line x1="24.80" y1="451.53" x2="27.80" y2="451.53" stroke="#000" stroke-width="1.3"/>
<text x="24.60" y="454.43" font-size="5.9" font-weight="normal" text-anchor="end" fill="#111" stroke="#111" stroke-width="0.12">50</text>
<line x1="24.80" y1="423.50" x2="27.80" y2="423.50" stroke="#000" stroke-width="1.3"/>
<text x="24.60" y="426.40" font-size="5.9" font-weight="normal" text-anchor="end" fill="#111" stroke="#111" stroke-width="0.12">75</text>
<line x1="24.60" y1="507.60" x2="154.80" y2="507.60" stroke="#000" stroke-width="1.4"/>
<line x1="27.80" y1="507.60" x2="27.80" y2="510.40" stroke="#000" stroke-width="1.1"/>
<text x="27.80" y="517.20" font-size="5.9" font-weight="normal" text-anchor="middle" fill="#111" stroke="#111" stroke-width="0.12">0</text>
<line x1="59.43" y1="507.60" x2="59.43" y2="510.40" stroke="#000" stroke-width="1.1"/>
<text x="59.43" y="517.20" font-size="5.9" font-weight="normal" text-anchor="middle" fill="#111" stroke="#111" stroke-width="0.12">25</text>
<line x1="91.05" y1="507.60" x2="91.05" y2="510.40" stroke="#000" stroke-width="1.1"/>
<text x="91.05" y="517.20" font-size="5.9" font-weight="normal" text-anchor="middle" fill="#111" stroke="#111" stroke-width="0.12">50</text>
<line x1="122.68" y1="507.60" x2="122.68" y2="510.40" stroke="#000" stroke-width="1.1"/>
<text x="122.68" y="517.20" font-size="5.9" font-weight="normal" text-anchor="middle" fill="#111" stroke="#111" stroke-width="0.12">75</text>
<line x1="154.30" y1="507.60" x2="154.30" y2="510.40" stroke="#000" stroke-width="1.1"/>
<text x="154.30" y="517.20" font-size="5.9" font-weight="normal" text-anchor="middle" fill="#111" stroke="#111" stroke-width="0.12">100</text>
<text x="98.80" y="434.60" font-size="6.3" font-weight="normal" text-anchor="start" fill="#333" >r = -0.4602</text>
<text x="98.80" y="442.40" font-size="6.3" font-weight="normal" text-anchor="start" fill="#333" >p &lt; 0.05</text>
<text x="56.80" y="529.90" font-size="8.2" font-weight="bold" fill="#000" stroke="#000" stroke-width="0.2">% G6<tspan font-size="5.8" dx="1.4" dy="-5.0">+</tspan><tspan dx="0.4" dy="5.0"> (of CD20</tspan><tspan font-size="5.8" dx="1.4" dy="-5.0">+</tspan><tspan dx="0.9" dy="5.0">)</tspan></text>
<polygon points="31.60,440.00 34.70,443.10 31.60,446.20 28.50,443.10" fill="#000"/>
<polygon points="31.60,441.63 33.07,443.10 31.60,444.57 30.13,443.10" fill="#fff"/>
<polygon points="40.20,450.70 43.30,453.80 40.20,456.90 37.10,453.80" fill="#000"/>
<polygon points="40.20,452.33 41.67,453.80 40.20,455.27 38.73,453.80" fill="#fff"/>
<polygon points="35.10,426.10 38.50,429.50 35.10,432.90 31.70,429.50" fill="#000"/>
<circle cx="35.10" cy="429.50" r="0.45" fill="#fff"/>
<polygon points="32.40,464.00 35.80,467.40 32.40,470.80 29.00,467.40" fill="#000"/>
<circle cx="32.40" cy="467.40" r="0.45" fill="#fff"/>
<polygon points="50.30,429.65 52.80,434.15 47.80,434.15" fill="#000"/>
<polygon points="50.30,431.71 51.10,433.15 49.50,433.15" fill="#fff"/>
<polygon points="34.60,448.75 37.10,453.25 32.10,453.25" fill="#000"/>
<polygon points="34.60,450.81 35.40,452.25 33.80,452.25" fill="#fff"/>
<polygon points="35.30,491.45 37.80,495.95 32.80,495.95" fill="#000"/>
<polygon points="35.30,493.51 36.10,494.95 34.50,494.95" fill="#fff"/>
<polygon points="42.50,492.35 45.00,496.85 40.00,496.85" fill="#000"/>
<polygon points="42.50,494.41 43.30,495.85 41.70,495.85" fill="#fff"/>
<polygon points="44.70,446.05 47.20,450.55 42.20,450.55" fill="#000"/>
<polygon points="48.40,465.75 50.90,470.25 45.90,470.25" fill="#000"/>
<polygon points="61.20,461.05 63.70,465.55 58.70,465.55" fill="#000"/>
<polygon points="75.80,476.05 78.30,480.55 73.30,480.55" fill="#000"/>
<polygon points="49.90,480.55 52.40,485.05 47.40,485.05" fill="#000"/>
<polygon points="44.30,497.35 46.80,501.85 41.80,501.85" fill="#000"/>
<polygon points="106.20,488.95 108.70,493.45 103.70,493.45" fill="#000"/>
<polygon points="131.80,480.75 134.30,485.25 129.30,485.25" fill="#000"/>
<polygon points="117.80,499.25 120.30,503.75 115.30,503.75" fill="#000"/>
<line x1="190.10" y1="283.40" x2="190.10" y2="504.00" stroke="#000" stroke-width="1.5"/>
<text transform="translate(187.60,422.40) rotate(-90)" x="0" y="0" font-size="14.6" font-weight="bold" fill="#000">CD95 MFI</text>
<line x1="209.40" y1="298.20" x2="209.40" y2="376.70" stroke="#000" stroke-width="1.4"/>
<line x1="206.40" y1="376.00" x2="209.40" y2="376.00" stroke="#000" stroke-width="1.3"/>
<text x="206.20" y="378.90" font-size="5.9" font-weight="normal" text-anchor="end" fill="#111" stroke="#111" stroke-width="0.12">0</text>
<line x1="206.40" y1="356.70" x2="209.40" y2="356.70" stroke="#000" stroke-width="1.3"/>
<text x="206.20" y="359.60" font-size="5.9" font-weight="normal" text-anchor="end" fill="#111" stroke="#111" stroke-width="0.12">1000</text>
<line x1="206.40" y1="337.40" x2="209.40" y2="337.40" stroke="#000" stroke-width="1.3"/>
<text x="206.20" y="340.30" font-size="5.9" font-weight="normal" text-anchor="end" fill="#111" stroke="#111" stroke-width="0.12">2000</text>
<line x1="206.40" y1="318.10" x2="209.40" y2="318.10" stroke="#000" stroke-width="1.3"/>
<text x="206.20" y="321.00" font-size="5.9" font-weight="normal" text-anchor="end" fill="#111" stroke="#111" stroke-width="0.12">3000</text>
<line x1="206.40" y1="298.80" x2="209.40" y2="298.80" stroke="#000" stroke-width="1.3"/>
<text x="206.20" y="301.70" font-size="5.9" font-weight="normal" text-anchor="end" fill="#111" stroke="#111" stroke-width="0.12">4000</text>
<line x1="206.20" y1="376.00" x2="325.80" y2="376.00" stroke="#000" stroke-width="1.4"/>
<polyline points="254.00,285.30 254.00,276.60 323.90,276.60 323.90,285.30" fill="none" stroke="#000" stroke-width="1.4"/>
<text x="284.00" y="277.40" font-size="9" font-weight="bold" fill="#000">*</text>
<line x1="252.60" y1="292.70" x2="285.70" y2="292.70" stroke="#000" stroke-width="1.4"/>
<text x="264.30" y="293.40" font-size="9" font-weight="bold" fill="#000">*</text>
<text x="268.90" y="293.40" font-size="9" font-weight="bold" fill="#000">*</text>
<rect x="222.60" y="333.30" width="3.0" height="3.0" fill="#fff" stroke="#000" stroke-width="1.1"/>
<rect x="222.60" y="342.90" width="3.0" height="3.0" fill="#fff" stroke="#000" stroke-width="1.1"/>
<rect x="222.60" y="352.10" width="3.0" height="3.0" fill="#fff" stroke="#000" stroke-width="1.1"/>
<rect x="227.50" y="354.70" width="3.0" height="3.0" fill="#fff" stroke="#000" stroke-width="1.1"/>
<rect x="217.70" y="356.40" width="3.0" height="3.0" fill="#fff" stroke="#000" stroke-width="1.1"/>
<rect x="222.60" y="355.80" width="3.0" height="3.0" fill="#fff" stroke="#000" stroke-width="1.1"/>
<rect x="222.60" y="358.10" width="3.0" height="3.0" fill="#fff" stroke="#000" stroke-width="1.1"/>
<rect x="217.70" y="362.70" width="3.0" height="3.0" fill="#fff" stroke="#000" stroke-width="1.1"/>
<rect x="221.00" y="362.20" width="3.0" height="3.0" fill="#fff" stroke="#000" stroke-width="1.1"/>
<rect x="225.20" y="362.70" width="3.0" height="3.0" fill="#fff" stroke="#000" stroke-width="1.1"/>
<rect x="222.60" y="366.20" width="3.0" height="3.0" fill="#fff" stroke="#000" stroke-width="1.1"/>
<rect x="227.50" y="365.30" width="3.0" height="3.0" fill="#fff" stroke="#000" stroke-width="1.1"/>
<line x1="214.80" y1="359.00" x2="234.20" y2="359.00" stroke="#000" stroke-width="1.3"/>
<rect x="251.40" y="359.00" width="3.0" height="3.0" fill="#fff" stroke="#000" stroke-width="1.1"/>
<rect x="248.90" y="361.60" width="3.0" height="3.0" fill="#fff" stroke="#000" stroke-width="1.1"/>
<rect x="254.10" y="361.60" width="3.0" height="3.0" fill="#fff" stroke="#000" stroke-width="1.1"/>
<rect x="256.70" y="363.30" width="3.0" height="3.0" fill="#fff" stroke="#000" stroke-width="1.1"/>
<rect x="246.60" y="364.80" width="3.0" height="3.0" fill="#fff" stroke="#000" stroke-width="1.1"/>
<rect x="251.40" y="364.50" width="3.0" height="3.0" fill="#fff" stroke="#000" stroke-width="1.1"/>
<rect x="254.10" y="366.20" width="3.0" height="3.0" fill="#fff" stroke="#000" stroke-width="1.1"/>
<rect x="249.10" y="366.80" width="3.0" height="3.0" fill="#fff" stroke="#000" stroke-width="1.1"/>
<rect x="256.70" y="367.60" width="3.0" height="3.0" fill="#fff" stroke="#000" stroke-width="1.1"/>
<rect x="251.40" y="369.40" width="3.0" height="3.0" fill="#fff" stroke="#000" stroke-width="1.1"/>
<line x1="244.00" y1="365.40" x2="262.50" y2="365.40" stroke="#000" stroke-width="1.3"/>
<rect x="280.65" y="299.15" width="3.5" height="3.5" fill="#000"/>
<rect x="280.65" y="333.85" width="3.5" height="3.5" fill="#000"/>
<rect x="282.85" y="335.85" width="3.5" height="3.5" fill="#000"/>
<rect x="278.35" y="339.75" width="3.5" height="3.5" fill="#000"/>
<rect x="273.45" y="347.25" width="3.5" height="3.5" fill="#000"/>
<rect x="287.85" y="348.95" width="3.5" height="3.5" fill="#000"/>
<rect x="278.35" y="351.15" width="3.5" height="3.5" fill="#000"/>
<rect x="282.85" y="351.55" width="3.5" height="3.5" fill="#000"/>
<rect x="280.65" y="356.75" width="3.5" height="3.5" fill="#000"/>
<line x1="273.50" y1="349.40" x2="291.80" y2="349.40" stroke="#000" stroke-width="1.3"/>
<rect x="309.75" y="345.35" width="3.5" height="3.5" fill="#000"/>
<rect x="309.75" y="352.45" width="3.5" height="3.5" fill="#000"/>
<rect x="302.25" y="354.55" width="3.5" height="3.5" fill="#000"/>
<rect x="306.85" y="354.85" width="3.5" height="3.5" fill="#000"/>
<rect x="316.65" y="354.55" width="3.5" height="3.5" fill="#000"/>
<rect x="312.15" y="357.15" width="3.5" height="3.5" fill="#000"/>
<rect x="304.85" y="359.05" width="3.5" height="3.5" fill="#000"/>
<rect x="314.75" y="360.05" width="3.5" height="3.5" fill="#000"/>
<rect x="309.75" y="361.65" width="3.5" height="3.5" fill="#000"/>
<line x1="302.30" y1="356.60" x2="320.40" y2="356.60" stroke="#000" stroke-width="1.3"/>
<text transform="translate(221.00,389.20) scale(1,1.1)" font-size="8.1" font-weight="bold" fill="#000" stroke="#000" stroke-width="0.3">G6<tspan font-size="5.2" dx="0.9" dy="-4.0">+</tspan></text>
<text transform="translate(253.30,389.20) scale(1,1.1)" font-size="8.1" font-weight="bold" fill="#000" stroke="#000" stroke-width="0.3">G6<tspan font-size="5.2" dx="0.9" dy="-4.0">-</tspan></text>
<text transform="translate(285.60,389.20) scale(1,1.1)" font-size="8.1" font-weight="bold" fill="#000" stroke="#000" stroke-width="0.3">G6<tspan font-size="5.2" dx="0.9" dy="-4.0">+</tspan></text>
<text transform="translate(316.30,389.20) scale(1,1.1)" font-size="8.1" font-weight="bold" fill="#000" stroke="#000" stroke-width="0.3">G6<tspan font-size="5.2" dx="0.9" dy="-4.0">-</tspan></text>
<line x1="224.80" y1="393.30" x2="262.50" y2="393.30" stroke="#000" stroke-width="1.3"/>
<line x1="287.50" y1="393.30" x2="324.40" y2="393.30" stroke="#000" stroke-width="1.3"/>
<text transform="translate(236.40,404.80) scale(1,1.1)" font-size="8.1" font-weight="bold" fill="#000" stroke="#000" stroke-width="0.3">MC<tspan font-size="5.2" dx="0.9" dy="-4.0">-</tspan></text>
<text transform="translate(297.00,404.80) scale(1,1.1)" font-size="8.1" font-weight="bold" fill="#000" stroke="#000" stroke-width="0.3">MC<tspan font-size="5.2" dx="0.9" dy="-4.0">+</tspan></text>
<line x1="210.40" y1="422.90" x2="210.40" y2="510.20" stroke="#000" stroke-width="1.4"/>
<line x1="207.40" y1="507.20" x2="210.40" y2="507.20" stroke="#000" stroke-width="1.3"/>
<text x="207.20" y="510.10" font-size="5.9" font-weight="normal" text-anchor="end" fill="#111" stroke="#111" stroke-width="0.12">0</text>
<line x1="207.40" y1="479.30" x2="210.40" y2="479.30" stroke="#000" stroke-width="1.3"/>
<text x="207.20" y="482.20" font-size="5.9" font-weight="normal" text-anchor="end" fill="#111" stroke="#111" stroke-width="0.12">1000</text>
<line x1="207.40" y1="451.40" x2="210.40" y2="451.40" stroke="#000" stroke-width="1.3"/>
<text x="207.20" y="454.30" font-size="5.9" font-weight="normal" text-anchor="end" fill="#111" stroke="#111" stroke-width="0.12">2000</text>
<line x1="207.40" y1="423.50" x2="210.40" y2="423.50" stroke="#000" stroke-width="1.3"/>
<text x="207.20" y="426.40" font-size="5.9" font-weight="normal" text-anchor="end" fill="#111" stroke="#111" stroke-width="0.12">3000</text>
<line x1="207.40" y1="493.25" x2="210.40" y2="493.25" stroke="#000" stroke-width="1.3"/>
<line x1="207.40" y1="465.35" x2="210.40" y2="465.35" stroke="#000" stroke-width="1.3"/>
<line x1="207.40" y1="437.45" x2="210.40" y2="437.45" stroke="#000" stroke-width="1.3"/>
<line x1="207.20" y1="507.20" x2="337.00" y2="507.20" stroke="#000" stroke-width="1.4"/>
<line x1="210.40" y1="507.20" x2="210.40" y2="510.00" stroke="#000" stroke-width="1.1"/>
<text x="210.40" y="516.80" font-size="5.9" font-weight="normal" text-anchor="middle" fill="#111" stroke="#111" stroke-width="0.12">0</text>
<line x1="241.93" y1="507.20" x2="241.93" y2="510.00" stroke="#000" stroke-width="1.1"/>
<text x="241.93" y="516.80" font-size="5.9" font-weight="normal" text-anchor="middle" fill="#111" stroke="#111" stroke-width="0.12">25</text>
<line x1="273.45" y1="507.20" x2="273.45" y2="510.00" stroke="#000" stroke-width="1.1"/>
<text x="273.45" y="516.80" font-size="5.9" font-weight="normal" text-anchor="middle" fill="#111" stroke="#111" stroke-width="0.12">50</text>
<line x1="304.98" y1="507.20" x2="304.98" y2="510.00" stroke="#000" stroke-width="1.1"/>
<text x="304.98" y="516.80" font-size="5.9" font-weight="normal" text-anchor="middle" fill="#111" stroke="#111" stroke-width="0.12">75</text>
<line x1="336.50" y1="507.20" x2="336.50" y2="510.00" stroke="#000" stroke-width="1.1"/>
<text x="336.50" y="516.80" font-size="5.9" font-weight="normal" text-anchor="middle" fill="#111" stroke="#111" stroke-width="0.12">100</text>
<text x="251.90" y="428.40" font-size="6.3" font-weight="normal" text-anchor="start" fill="#333" >r = 0.5233</text>
<text x="251.90" y="435.90" font-size="6.3" font-weight="normal" text-anchor="start" fill="#333" >p &lt; 0.05</text>
<text x="239.00" y="531.20" font-size="8.2" font-weight="bold" fill="#000" stroke="#000" stroke-width="0.2">% G6<tspan font-size="5.8" dx="1.4" dy="-5.0">+</tspan><tspan dx="0.4" dy="5.0"> (of CD20</tspan><tspan font-size="5.8" dx="1.4" dy="-5.0">+</tspan><tspan dx="0.9" dy="5.0">)</tspan></text>
<polygon points="217.50,485.70 220.60,488.80 217.50,491.90 214.40,488.80" fill="#000"/>
<polygon points="217.50,487.33 218.97,488.80 217.50,490.27 216.03,488.80" fill="#fff"/>
<polygon points="222.90,488.30 226.00,491.40 222.90,494.50 219.80,491.40" fill="#000"/>
<polygon points="222.90,489.93 224.37,491.40 222.90,492.87 221.43,491.40" fill="#fff"/>
<polygon points="214.80,490.60 217.90,493.70 214.80,496.80 211.70,493.70" fill="#000"/>
<polygon points="214.80,492.23 216.27,493.70 214.80,495.17 213.33,493.70" fill="#fff"/>
<polygon points="214.80,500.50 217.90,503.60 214.80,506.70 211.70,503.60" fill="#000"/>
<polygon points="214.80,502.13 216.27,503.60 214.80,505.07 213.33,503.60" fill="#fff"/>
<polygon points="217.10,482.25 219.60,486.75 214.60,486.75" fill="#000"/>
<polygon points="217.10,484.31 217.90,485.75 216.30,485.75" fill="#fff"/>
<polygon points="225.20,493.75 227.70,498.25 222.70,498.25" fill="#000"/>
<polygon points="225.20,495.81 226.00,497.25 224.40,497.25" fill="#fff"/>
<polygon points="216.50,495.25 219.00,499.75 214.00,499.75" fill="#000"/>
<polygon points="216.50,497.31 217.30,498.75 215.70,498.75" fill="#fff"/>
<polygon points="300.30,434.65 302.80,439.15 297.80,439.15" fill="#000"/>
<polygon points="288.50,471.35 291.00,475.85 286.00,475.85" fill="#000"/>
<polygon points="227.50,468.75 230.00,473.25 225.00,473.25" fill="#000"/>
<polygon points="226.70,480.85 229.20,485.35 224.20,485.35" fill="#000"/>
<polygon points="231.30,480.85 233.80,485.35 228.80,485.35" fill="#000"/>
<polygon points="244.00,479.05 246.50,483.55 241.50,483.55" fill="#000"/>
<polygon points="258.30,488.35 260.80,492.85 255.80,492.85" fill="#000"/>
<polygon points="314.00,494.15 316.50,498.65 311.50,498.65" fill="#000"/>
<polygon points="232.50,497.25 235.00,501.75 230.00,501.75" fill="#000"/>
<polygon points="232.70,490.65 235.20,495.15 230.20,495.15" fill="#000"/>
<polygon points="217.50,497.55 220.00,502.05 215.00,502.05" fill="#000"/>
<polygon points="213.10,502.75 215.60,507.25 210.60,507.25" fill="#000"/>
<line x1="367.10" y1="286.80" x2="367.10" y2="507.60" stroke="#000" stroke-width="1.5"/>
<text transform="translate(364.20,426.30) rotate(-90)" x="0" y="0" font-size="14.6" font-weight="bold" fill="#000">CXCR3 MFI</text>
<line x1="389.80" y1="292.50" x2="389.80" y2="376.90" stroke="#000" stroke-width="1.4"/>
<line x1="386.80" y1="376.20" x2="389.80" y2="376.20" stroke="#000" stroke-width="1.3"/>
<text x="386.60" y="379.10" font-size="5.9" font-weight="normal" text-anchor="end" fill="#111" stroke="#111" stroke-width="0.12">0</text>
<line x1="386.80" y1="348.50" x2="389.80" y2="348.50" stroke="#000" stroke-width="1.3"/>
<text x="386.60" y="351.40" font-size="5.9" font-weight="normal" text-anchor="end" fill="#111" stroke="#111" stroke-width="0.12">1000</text>
<line x1="386.80" y1="320.80" x2="389.80" y2="320.80" stroke="#000" stroke-width="1.3"/>
<text x="386.60" y="323.70" font-size="5.9" font-weight="normal" text-anchor="end" fill="#111" stroke="#111" stroke-width="0.12">2000</text>
<line x1="386.80" y1="293.10" x2="389.80" y2="293.10" stroke="#000" stroke-width="1.3"/>
<text x="386.60" y="296.00" font-size="5.9" font-weight="normal" text-anchor="end" fill="#111" stroke="#111" stroke-width="0.12">3000</text>
<line x1="386.60" y1="376.20" x2="516.50" y2="376.20" stroke="#000" stroke-width="1.4"/>
<line x1="397.40" y1="292.20" x2="508.70" y2="292.20" stroke="#000" stroke-width="1.4"/>
<text x="454.70" y="288.60" font-size="6.6" font-weight="normal" text-anchor="start" fill="#111" letter-spacing="-0.55">n.s.</text>
<rect x="399.95" y="354.55" width="4.3" height="4.3" fill="#fff" stroke="#000" stroke-width="1.25"/>
<rect x="409.85" y="356.45" width="4.3" height="4.3" fill="#fff" stroke="#000" stroke-width="1.25"/>
<rect x="404.65" y="359.85" width="4.3" height="4.3" fill="#fff" stroke="#000" stroke-width="1.25"/>
<rect x="399.95" y="366.15" width="4.3" height="4.3" fill="#fff" stroke="#000" stroke-width="1.25"/>
<rect x="404.65" y="366.75" width="4.3" height="4.3" fill="#fff" stroke="#000" stroke-width="1.25"/>
<rect x="399.95" y="371.45" width="4.3" height="4.3" fill="#fff" stroke="#000" stroke-width="1.25"/>
<rect x="404.65" y="371.85" width="4.3" height="4.3" fill="#fff" stroke="#000" stroke-width="1.25"/>
<rect x="408.05" y="371.85" width="4.3" height="4.3" fill="#fff" stroke="#000" stroke-width="1.25"/>
<rect x="412.15" y="371.85" width="4.3" height="4.3" fill="#fff" stroke="#000" stroke-width="1.25"/>
<line x1="395.60" y1="372.60" x2="415.80" y2="372.60" stroke="#000" stroke-width="1.3"/>
<rect x="431.25" y="359.25" width="4.3" height="4.3" fill="#fff" stroke="#000" stroke-width="1.25"/>
<rect x="436.05" y="361.15" width="4.3" height="4.3" fill="#fff" stroke="#000" stroke-width="1.25"/>
<rect x="441.15" y="358.65" width="4.3" height="4.3" fill="#fff" stroke="#000" stroke-width="1.25"/>
<rect x="437.35" y="369.15" width="4.3" height="4.3" fill="#fff" stroke="#000" stroke-width="1.25"/>
<rect x="428.55" y="369.95" width="4.3" height="4.3" fill="#fff" stroke="#000" stroke-width="1.25"/>
<rect x="432.65" y="371.85" width="4.3" height="4.3" fill="#fff" stroke="#000" stroke-width="1.25"/>
<rect x="440.15" y="371.85" width="4.3" height="4.3" fill="#fff" stroke="#000" stroke-width="1.25"/>
<rect x="443.95" y="371.85" width="4.3" height="4.3" fill="#fff" stroke="#000" stroke-width="1.25"/>
<line x1="427.70" y1="373.00" x2="448.00" y2="373.00" stroke="#000" stroke-width="1.3"/>
<rect x="467.55" y="304.55" width="4.3" height="4.3" fill="#000"/>
<rect x="467.55" y="325.95" width="4.3" height="4.3" fill="#000"/>
<rect x="467.55" y="341.55" width="4.3" height="4.3" fill="#000"/>
<rect x="472.75" y="354.75" width="4.3" height="4.3" fill="#000"/>
<rect x="467.55" y="358.85" width="4.3" height="4.3" fill="#000"/>
<rect x="462.45" y="362.55" width="4.3" height="4.3" fill="#000"/>
<rect x="467.55" y="367.15" width="4.3" height="4.3" fill="#000"/>
<rect x="472.75" y="370.45" width="4.3" height="4.3" fill="#000"/>
<rect x="467.55" y="372.85" width="4.3" height="4.3" fill="#000"/>
<line x1="458.40" y1="360.20" x2="479.80" y2="360.20" stroke="#000" stroke-width="1.3"/>
<rect x="498.85" y="345.75" width="4.3" height="4.3" fill="#000"/>
<rect x="498.85" y="355.35" width="4.3" height="4.3" fill="#000"/>
<rect x="493.75" y="364.25" width="4.3" height="4.3" fill="#000"/>
<rect x="498.85" y="366.35" width="4.3" height="4.3" fill="#000"/>
<rect x="495.85" y="369.15" width="4.3" height="4.3" fill="#000"/>
<rect x="493.75" y="372.45" width="4.3" height="4.3" fill="#000"/>
<rect x="498.85" y="371.85" width="4.3" height="4.3" fill="#000"/>
<rect x="504.05" y="371.85" width="4.3" height="4.3" fill="#000"/>
<line x1="489.70" y1="371.30" x2="510.70" y2="371.30" stroke="#000" stroke-width="1.3"/>
<text transform="translate(401.00,391.90) scale(1,1.1)" font-size="8.1" font-weight="bold" fill="#000" stroke="#000" stroke-width="0.3">G6<tspan font-size="5.2" dx="0.9" dy="-4.0">+</tspan></text>
<text transform="translate(432.50,391.90) scale(1,1.1)" font-size="8.1" font-weight="bold" fill="#000" stroke="#000" stroke-width="0.3">G6<tspan font-size="5.2" dx="0.9" dy="-4.0">-</tspan></text>
<text transform="translate(462.90,391.90) scale(1,1.1)" font-size="8.1" font-weight="bold" fill="#000" stroke="#000" stroke-width="0.3">G6<tspan font-size="5.2" dx="0.9" dy="-4.0">+</tspan></text>
<text transform="translate(495.80,391.90) scale(1,1.1)" font-size="8.1" font-weight="bold" fill="#000" stroke="#000" stroke-width="0.3">G6<tspan font-size="5.2" dx="0.9" dy="-4.0">-</tspan></text>
<line x1="404.20" y1="396.00" x2="441.90" y2="396.00" stroke="#000" stroke-width="1.3"/>
<line x1="467.50" y1="396.00" x2="506.50" y2="396.00" stroke="#000" stroke-width="1.3"/>
<text transform="translate(414.70,406.70) scale(1,1.1)" font-size="8.1" font-weight="bold" fill="#000" stroke="#000" stroke-width="0.3">MC<tspan font-size="5.2" dx="0.9" dy="-4.0">-</tspan></text>
<text transform="translate(476.70,406.70) scale(1,1.1)" font-size="8.1" font-weight="bold" fill="#000" stroke="#000" stroke-width="0.3">MC<tspan font-size="5.2" dx="0.9" dy="-4.0">+</tspan></text>
<line x1="389.60" y1="423.40" x2="389.60" y2="510.00" stroke="#000" stroke-width="1.4"/>
<line x1="386.60" y1="507.00" x2="389.60" y2="507.00" stroke="#000" stroke-width="1.3"/>
<text x="386.40" y="509.90" font-size="5.9" font-weight="normal" text-anchor="end" fill="#111" stroke="#111" stroke-width="0.12">0</text>
<line x1="386.60" y1="465.50" x2="389.60" y2="465.50" stroke="#000" stroke-width="1.3"/>
<text x="386.40" y="468.40" font-size="5.9" font-weight="normal" text-anchor="end" fill="#111" stroke="#111" stroke-width="0.12">1000</text>
<line x1="386.60" y1="424.00" x2="389.60" y2="424.00" stroke="#000" stroke-width="1.3"/>
<text x="386.40" y="426.90" font-size="5.9" font-weight="normal" text-anchor="end" fill="#111" stroke="#111" stroke-width="0.12">2000</text>
<line x1="386.60" y1="486.25" x2="389.60" y2="486.25" stroke="#000" stroke-width="1.3"/>
<line x1="386.60" y1="444.75" x2="389.60" y2="444.75" stroke="#000" stroke-width="1.3"/>
<line x1="386.40" y1="507.00" x2="512.50" y2="507.00" stroke="#000" stroke-width="1.4"/>
<line x1="389.60" y1="507.00" x2="389.60" y2="509.80" stroke="#000" stroke-width="1.1"/>
<text x="389.60" y="516.60" font-size="5.9" font-weight="normal" text-anchor="middle" fill="#111" stroke="#111" stroke-width="0.12">0</text>
<line x1="420.27" y1="507.00" x2="420.27" y2="509.80" stroke="#000" stroke-width="1.1"/>
<text x="420.27" y="516.60" font-size="5.9" font-weight="normal" text-anchor="middle" fill="#111" stroke="#111" stroke-width="0.12">25</text>
<line x1="450.95" y1="507.00" x2="450.95" y2="509.80" stroke="#000" stroke-width="1.1"/>
<text x="450.95" y="516.60" font-size="5.9" font-weight="normal" text-anchor="middle" fill="#111" stroke="#111" stroke-width="0.12">50</text>
<line x1="481.62" y1="507.00" x2="481.62" y2="509.80" stroke="#000" stroke-width="1.1"/>
<text x="481.62" y="516.60" font-size="5.9" font-weight="normal" text-anchor="middle" fill="#111" stroke="#111" stroke-width="0.12">75</text>
<line x1="512.30" y1="507.00" x2="512.30" y2="509.80" stroke="#000" stroke-width="1.1"/>
<text x="512.30" y="516.60" font-size="5.9" font-weight="normal" text-anchor="middle" fill="#111" stroke="#111" stroke-width="0.12">100</text>
<text x="441.50" y="432.90" font-size="6.3" font-weight="normal" text-anchor="start" fill="#333" >r = 0.2422</text>
<text x="441.50" y="440.60" font-size="6.3" font-weight="normal" text-anchor="start" fill="#333" >p = n.s.</text>
<text x="420.00" y="528.40" font-size="8.2" font-weight="bold" fill="#000" stroke="#000" stroke-width="0.2">% G6<tspan font-size="5.8" dx="1.4" dy="-5.0">+</tspan><tspan dx="0.4" dy="5.0"> (of CD20</tspan><tspan font-size="5.8" dx="1.4" dy="-5.0">+</tspan><tspan dx="0.9" dy="5.0">)</tspan></text>
<polygon points="392.80,481.10 395.90,484.20 392.80,487.30 389.70,484.20" fill="#000"/>
<polygon points="392.80,482.73 394.27,484.20 392.80,485.67 391.33,484.20" fill="#fff"/>
<polygon points="401.70,500.70 404.80,503.80 401.70,506.90 398.60,503.80" fill="#000"/>
<polygon points="401.70,502.33 403.17,503.80 401.70,505.27 400.23,503.80" fill="#fff"/>
<polygon points="393.70,501.30 396.80,504.40 393.70,507.50 390.60,504.40" fill="#000"/>
<polygon points="393.70,502.93 395.17,504.40 393.70,505.87 392.23,504.40" fill="#fff"/>
<polygon points="403.70,481.05 406.20,485.55 401.20,485.55" fill="#000"/>
<polygon points="403.70,483.11 404.50,484.55 402.90,484.55" fill="#fff"/>
<polygon points="396.00,484.25 398.50,488.75 393.50,488.75" fill="#000"/>
<polygon points="396.00,486.31 396.80,487.75 395.20,487.75" fill="#fff"/>
<polygon points="396.50,496.45 399.00,500.95 394.00,500.95" fill="#000"/>
<polygon points="396.50,498.51 397.30,499.95 395.70,499.95" fill="#fff"/>
<polygon points="394.00,499.55 396.50,504.05 391.50,504.05" fill="#000"/>
<polygon points="394.00,501.61 394.80,503.05 393.20,503.05" fill="#fff"/>
<polygon points="405.80,501.55 408.30,506.05 403.30,506.05" fill="#000"/>
<polygon points="405.80,503.61 406.60,505.05 405.00,505.05" fill="#fff"/>
<polygon points="492.90,428.55 495.40,433.05 490.40,433.05" fill="#000"/>
<polygon points="467.10,472.85 469.60,477.35 464.60,477.35" fill="#000"/>
<polygon points="410.20,469.05 412.70,473.55 407.70,473.55" fill="#000"/>
<polygon points="411.30,486.35 413.80,490.85 408.80,490.85" fill="#000"/>
<polygon points="436.90,490.95 439.40,495.45 434.40,495.45" fill="#000"/>
<polygon points="479.40,493.75 481.90,498.25 476.90,498.25" fill="#000"/>
<polygon points="422.50,500.25 425.00,504.75 420.00,504.75" fill="#000"/>
<polygon points="411.30,501.55 413.80,506.05 408.80,506.05" fill="#000"/>
<polygon points="396.00,502.95 398.50,507.45 393.50,507.45" fill="#000"/>
</svg>
</body></html>
